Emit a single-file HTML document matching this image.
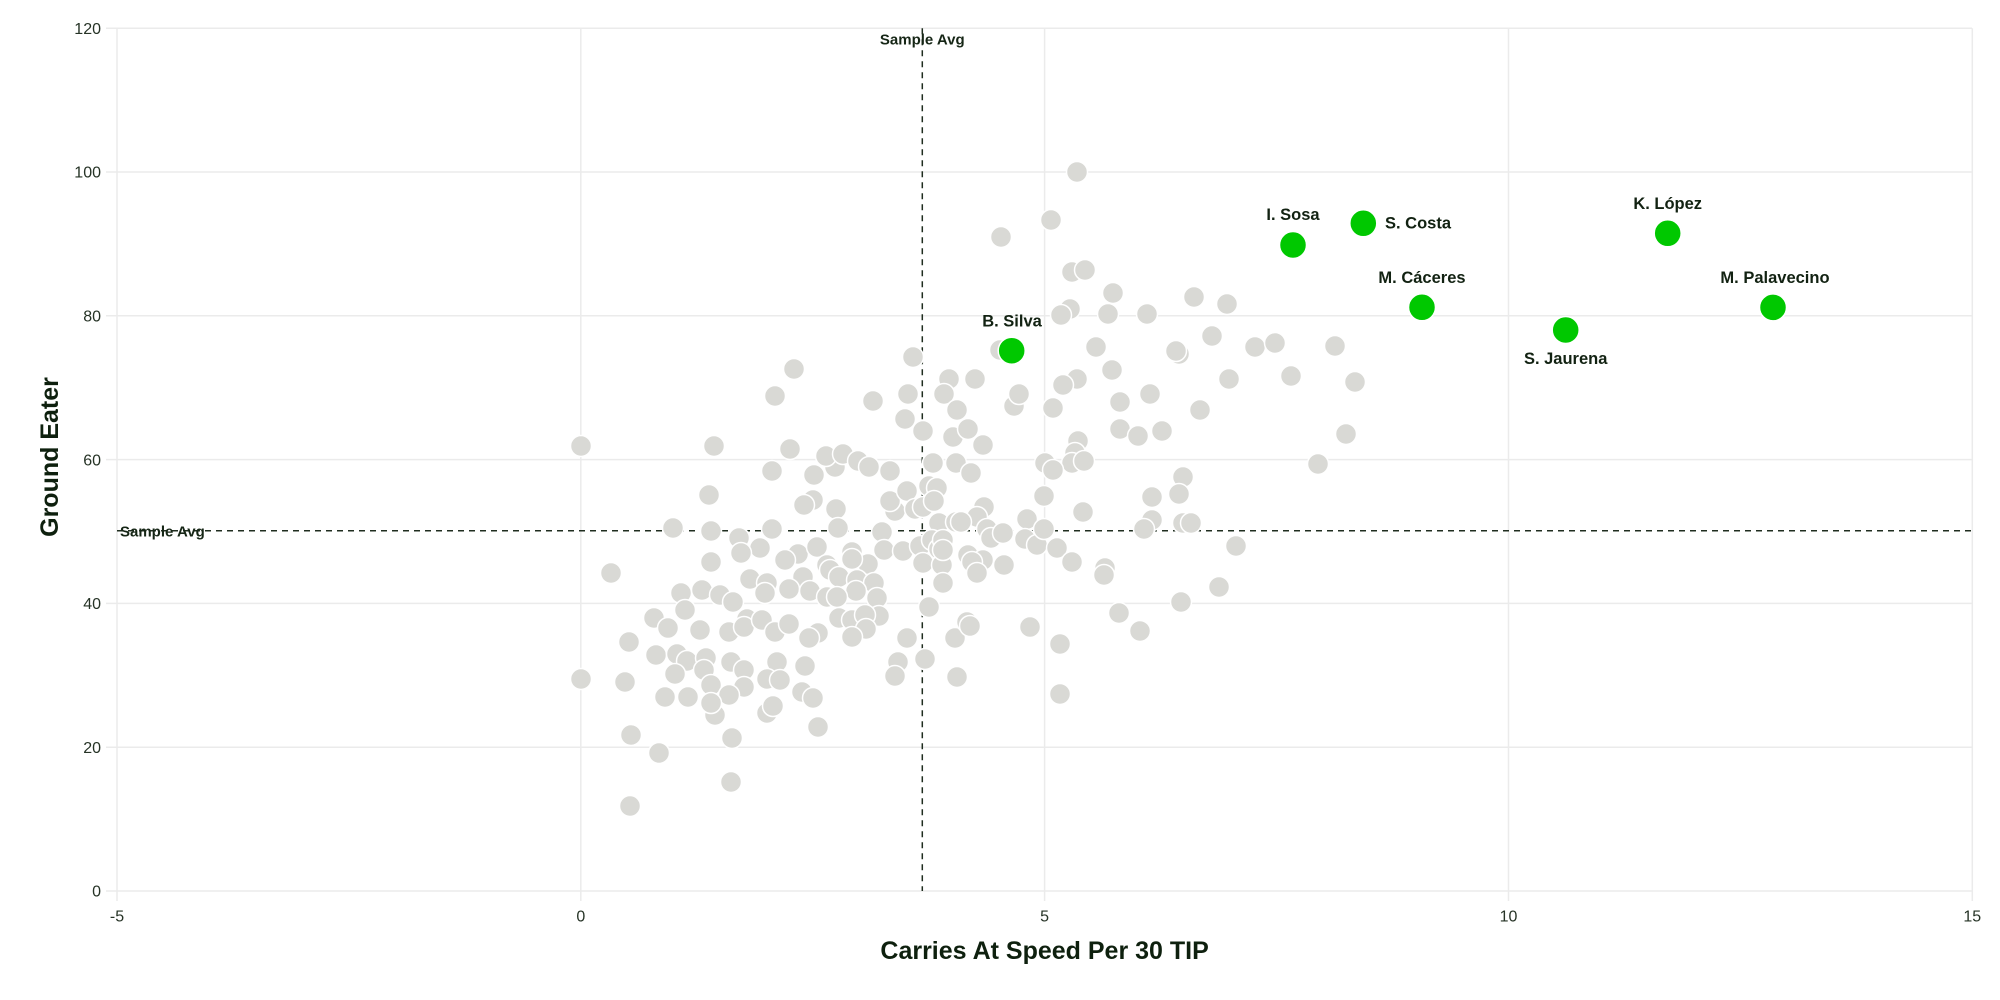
<!DOCTYPE html>
<html>
<head>
<meta charset="utf-8">
<style>
html,body{margin:0;padding:0;background:#fff;}
svg{display:block;}
text{font-family:"Liberation Sans",Arial,sans-serif;}
</style>
</head>
<body>
<svg width="2000" height="1000" viewBox="0 0 2000 1000" xmlns="http://www.w3.org/2000/svg">
<rect width="2000" height="1000" fill="#ffffff"/>
<g stroke="#ebebeb" stroke-width="1.5" fill="none">
<line x1="106" y1="891" x2="1972" y2="891"/><line x1="106" y1="747.2" x2="1972" y2="747.2"/><line x1="106" y1="603.4" x2="1972" y2="603.4"/><line x1="106" y1="459.6" x2="1972" y2="459.6"/>
<line x1="106" y1="315.8" x2="1972" y2="315.8"/><line x1="106" y1="172" x2="1972" y2="172"/><line x1="106" y1="28.2" x2="1972" y2="28.2"/>
<line x1="117" y1="28.2" x2="117" y2="901"/><line x1="580.8" y1="28.2" x2="580.8" y2="901"/><line x1="1044.6" y1="28.2" x2="1044.6" y2="901"/><line x1="1508.5" y1="28.2" x2="1508.5" y2="901"/><line x1="1972.3" y1="28.2" x2="1972.3" y2="901"/>
</g>
<g fill="#263326" font-size="16" text-anchor="end">
<text x="101" y="896.7">0</text><text x="101" y="752.9">20</text><text x="101" y="609.1">40</text><text x="101" y="465.3">60</text><text x="101" y="321.5">80</text><text x="101" y="177.7">100</text><text x="101" y="33.9">120</text>
</g>
<g fill="#263326" font-size="16" text-anchor="middle">
<text x="117" y="921.7">-5</text><text x="580.8" y="921.7">0</text><text x="1044.6" y="921.7">5</text><text x="1508.5" y="921.7">10</text><text x="1972.3" y="921.7">15</text>
</g>
<text x="1044.6" y="959" font-size="25" font-weight="bold" fill="#0e200e" text-anchor="middle">Carries At Speed Per 30 TIP</text>
<text transform="translate(58,457) rotate(-90)" font-size="25" font-weight="bold" fill="#0e200e" text-anchor="middle">Ground Eater</text>
<g stroke="#1f2d1f" stroke-width="1.5" stroke-dasharray="6,5" fill="none">
<line x1="922.3" y1="28.2" x2="922.3" y2="891"/><line x1="117" y1="530.7" x2="1972" y2="530.7"/>
</g>
<text x="922.3" y="44.5" font-size="15" font-weight="bold" fill="#162616" text-anchor="middle">Sample Avg</text>
<text x="120" y="536.5" font-size="15" font-weight="bold" fill="#162616">Sample Avg</text>
<g fill="#d9d9d5" stroke="#ffffff" stroke-width="1.5">
<circle cx="794" cy="369" r="10.5"/><circle cx="913" cy="357" r="10.5"/><circle cx="949" cy="379" r="10.5"/><circle cx="775" cy="396" r="10.5"/><circle cx="908" cy="394" r="10.5"/><circle cx="873" cy="401" r="10.5"/>
<circle cx="944" cy="394" r="10.5"/><circle cx="905" cy="419" r="10.5"/><circle cx="923" cy="431" r="10.5"/><circle cx="957" cy="410" r="10.5"/><circle cx="953" cy="437" r="10.5"/><circle cx="956" cy="463" r="10.5"/>
<circle cx="581" cy="446" r="10.5"/><circle cx="714" cy="446" r="10.5"/><circle cx="790" cy="449" r="10.5"/><circle cx="772" cy="471" r="10.5"/><circle cx="835" cy="467" r="10.5"/><circle cx="826" cy="456" r="10.5"/>
<circle cx="843" cy="454" r="10.5"/><circle cx="858" cy="461" r="10.5"/><circle cx="869" cy="467" r="10.5"/><circle cx="890" cy="471" r="10.5"/><circle cx="814" cy="475" r="10.5"/><circle cx="933" cy="463" r="10.5"/>
<circle cx="709" cy="495" r="10.5"/><circle cx="813" cy="500" r="10.5"/><circle cx="804" cy="505" r="10.5"/><circle cx="836" cy="509" r="10.5"/><circle cx="895" cy="511" r="10.5"/><circle cx="890" cy="501" r="10.5"/>
<circle cx="907" cy="491" r="10.5"/><circle cx="915" cy="509" r="10.5"/><circle cx="929" cy="486" r="10.5"/><circle cx="937" cy="488" r="10.5"/><circle cx="923" cy="507" r="10.5"/><circle cx="934" cy="501" r="10.5"/>
<circle cx="939" cy="523" r="10.5"/><circle cx="956" cy="522" r="10.5"/><circle cx="673" cy="528" r="10.5"/><circle cx="711" cy="531" r="10.5"/><circle cx="772" cy="529" r="10.5"/><circle cx="838" cy="528" r="10.5"/>
<circle cx="882" cy="532" r="10.5"/><circle cx="739" cy="538" r="10.5"/><circle cx="760" cy="548" r="10.5"/><circle cx="741" cy="553" r="10.5"/><circle cx="798" cy="554" r="10.5"/><circle cx="817" cy="547" r="10.5"/>
<circle cx="852" cy="552" r="10.5"/><circle cx="785" cy="560" r="10.5"/><circle cx="884" cy="550" r="10.5"/><circle cx="903" cy="551" r="10.5"/><circle cx="920" cy="546" r="10.5"/><circle cx="932" cy="540" r="10.5"/>
<circle cx="939" cy="549" r="10.5"/><circle cx="923" cy="563" r="10.5"/><circle cx="942" cy="565" r="10.5"/><circle cx="868" cy="564" r="10.5"/><circle cx="852" cy="559" r="10.5"/><circle cx="827" cy="565" r="10.5"/>
<circle cx="711" cy="562" r="10.5"/><circle cx="611" cy="573" r="10.5"/><circle cx="803" cy="577" r="10.5"/><circle cx="750" cy="579" r="10.5"/><circle cx="767" cy="583" r="10.5"/><circle cx="765" cy="593" r="10.5"/>
<circle cx="789" cy="589" r="10.5"/><circle cx="810" cy="591" r="10.5"/><circle cx="830" cy="570" r="10.5"/><circle cx="839" cy="577" r="10.5"/><circle cx="857" cy="580" r="10.5"/><circle cx="874" cy="583" r="10.5"/>
<circle cx="856" cy="591" r="10.5"/><circle cx="877" cy="598" r="10.5"/><circle cx="827" cy="597" r="10.5"/><circle cx="837" cy="597" r="10.5"/><circle cx="943" cy="583" r="10.5"/><circle cx="681" cy="593" r="10.5"/>
<circle cx="702" cy="590" r="10.5"/><circle cx="720" cy="595" r="10.5"/><circle cx="733" cy="602" r="10.5"/><circle cx="685" cy="610" r="10.5"/><circle cx="654" cy="618" r="10.5"/><circle cx="668" cy="628" r="10.5"/>
<circle cx="700" cy="630" r="10.5"/><circle cx="729" cy="632" r="10.5"/><circle cx="747" cy="619" r="10.5"/><circle cx="744" cy="627" r="10.5"/><circle cx="762" cy="620" r="10.5"/><circle cx="775" cy="632" r="10.5"/>
<circle cx="789" cy="624" r="10.5"/><circle cx="818" cy="633" r="10.5"/><circle cx="809" cy="638" r="10.5"/><circle cx="839" cy="618" r="10.5"/><circle cx="852" cy="620" r="10.5"/><circle cx="879" cy="616" r="10.5"/>
<circle cx="865" cy="615" r="10.5"/><circle cx="866" cy="629" r="10.5"/><circle cx="852" cy="637" r="10.5"/><circle cx="929" cy="607" r="10.5"/><circle cx="907" cy="638" r="10.5"/><circle cx="925" cy="659" r="10.5"/>
<circle cx="955" cy="638" r="10.5"/><circle cx="629" cy="642" r="10.5"/><circle cx="656" cy="655" r="10.5"/><circle cx="677" cy="654" r="10.5"/><circle cx="687" cy="661" r="10.5"/><circle cx="706" cy="658" r="10.5"/>
<circle cx="731" cy="662" r="10.5"/><circle cx="777" cy="662" r="10.5"/><circle cx="805" cy="666" r="10.5"/><circle cx="898" cy="662" r="10.5"/><circle cx="895" cy="676" r="10.5"/><circle cx="581" cy="679" r="10.5"/>
<circle cx="625" cy="682" r="10.5"/><circle cx="675" cy="674" r="10.5"/><circle cx="704" cy="670" r="10.5"/><circle cx="744" cy="670" r="10.5"/><circle cx="767" cy="679" r="10.5"/><circle cx="780" cy="680" r="10.5"/>
<circle cx="957" cy="677" r="10.5"/><circle cx="711" cy="685" r="10.5"/><circle cx="744" cy="687" r="10.5"/><circle cx="729" cy="695" r="10.5"/><circle cx="802" cy="692" r="10.5"/><circle cx="813" cy="698" r="10.5"/>
<circle cx="767" cy="713" r="10.5"/><circle cx="773" cy="706" r="10.5"/><circle cx="665" cy="697" r="10.5"/><circle cx="688" cy="697" r="10.5"/><circle cx="715" cy="715" r="10.5"/><circle cx="711" cy="703" r="10.5"/>
<circle cx="818" cy="727" r="10.5"/><circle cx="631" cy="735" r="10.5"/><circle cx="732" cy="738" r="10.5"/><circle cx="659" cy="753" r="10.5"/><circle cx="731" cy="782" r="10.5"/><circle cx="630" cy="806" r="10.5"/>
<circle cx="1077" cy="172" r="10.5"/><circle cx="1051" cy="220" r="10.5"/><circle cx="1001" cy="237" r="10.5"/><circle cx="1072" cy="272" r="10.5"/><circle cx="1085" cy="270" r="10.5"/><circle cx="1113" cy="293" r="10.5"/>
<circle cx="1194" cy="297" r="10.5"/><circle cx="1227" cy="304" r="10.5"/><circle cx="1070" cy="309" r="10.5"/><circle cx="1061" cy="315" r="10.5"/><circle cx="1108" cy="314" r="10.5"/><circle cx="1147" cy="314" r="10.5"/>
<circle cx="1000" cy="350" r="10.5"/><circle cx="1096" cy="347" r="10.5"/><circle cx="1179" cy="354" r="10.5"/><circle cx="1176" cy="351" r="10.5"/><circle cx="1212" cy="336" r="10.5"/><circle cx="1255" cy="347" r="10.5"/>
<circle cx="1275" cy="343" r="10.5"/><circle cx="1335" cy="346" r="10.5"/><circle cx="1112" cy="370" r="10.5"/><circle cx="1077" cy="379" r="10.5"/><circle cx="1063" cy="385" r="10.5"/><circle cx="1229" cy="379" r="10.5"/>
<circle cx="1291" cy="376" r="10.5"/><circle cx="1355" cy="382" r="10.5"/><circle cx="975" cy="379" r="10.5"/><circle cx="1014" cy="406" r="10.5"/><circle cx="1019" cy="394" r="10.5"/><circle cx="1053" cy="408" r="10.5"/>
<circle cx="1120" cy="402" r="10.5"/><circle cx="1150" cy="394" r="10.5"/><circle cx="1200" cy="410" r="10.5"/><circle cx="968" cy="429" r="10.5"/><circle cx="983" cy="445" r="10.5"/><circle cx="1078" cy="441" r="10.5"/>
<circle cx="1120" cy="429" r="10.5"/><circle cx="1138" cy="436" r="10.5"/><circle cx="1162" cy="431" r="10.5"/><circle cx="1346" cy="434" r="10.5"/><circle cx="1075" cy="453" r="10.5"/><circle cx="1072" cy="463" r="10.5"/>
<circle cx="1084" cy="461" r="10.5"/><circle cx="1045" cy="463" r="10.5"/><circle cx="1053" cy="470" r="10.5"/><circle cx="971" cy="473" r="10.5"/><circle cx="1318" cy="464" r="10.5"/><circle cx="1183" cy="477" r="10.5"/>
<circle cx="1179" cy="494" r="10.5"/><circle cx="1152" cy="497" r="10.5"/><circle cx="1044" cy="496" r="10.5"/><circle cx="1083" cy="512" r="10.5"/><circle cx="984" cy="507" r="10.5"/><circle cx="977" cy="517" r="10.5"/>
<circle cx="961" cy="522" r="10.5"/><circle cx="1027" cy="519" r="10.5"/><circle cx="987" cy="529" r="10.5"/><circle cx="991" cy="538" r="10.5"/><circle cx="1003" cy="533" r="10.5"/><circle cx="1025" cy="539" r="10.5"/>
<circle cx="1037" cy="545" r="10.5"/><circle cx="1044" cy="529" r="10.5"/><circle cx="1057" cy="548" r="10.5"/><circle cx="1072" cy="562" r="10.5"/><circle cx="1152" cy="520" r="10.5"/><circle cx="1144" cy="529" r="10.5"/>
<circle cx="1183" cy="523" r="10.5"/><circle cx="1191" cy="523" r="10.5"/><circle cx="1236" cy="546" r="10.5"/><circle cx="943" cy="540" r="10.5"/><circle cx="943" cy="550" r="10.5"/><circle cx="968" cy="555" r="10.5"/>
<circle cx="983" cy="560" r="10.5"/><circle cx="972" cy="562" r="10.5"/><circle cx="977" cy="573" r="10.5"/><circle cx="1004" cy="565" r="10.5"/><circle cx="1105" cy="568" r="10.5"/><circle cx="1104" cy="575" r="10.5"/>
<circle cx="1219" cy="587" r="10.5"/><circle cx="1181" cy="602" r="10.5"/><circle cx="1119" cy="613" r="10.5"/><circle cx="1140" cy="631" r="10.5"/><circle cx="967" cy="622" r="10.5"/><circle cx="970" cy="626" r="10.5"/>
<circle cx="1030" cy="627" r="10.5"/><circle cx="1060" cy="644" r="10.5"/><circle cx="1060" cy="694" r="10.5"/>
</g>
<g fill="#00c800" stroke="#ffffff" stroke-width="1.5">
<circle cx="1011.7" cy="350.7" r="13.5"/><circle cx="1293" cy="245" r="13.5"/><circle cx="1363.3" cy="223.3" r="13.5"/><circle cx="1422" cy="307.3" r="13.5"/>
<circle cx="1565.7" cy="330" r="13.5"/><circle cx="1667.7" cy="233.3" r="13.5"/><circle cx="1773" cy="307.4" r="13.5"/>
</g>
<g font-size="16.5" font-weight="bold" fill="#122212" text-anchor="middle">
<text x="1012" y="326.6">B. Silva</text>
<text x="1293" y="219.9">I. Sosa</text>
<text x="1385" y="228.6" text-anchor="start">S. Costa</text>
<text x="1422" y="283.2">M. Cáceres</text>
<text x="1565.7" y="364.2">S. Jaurena</text>
<text x="1667.7" y="209.2">K. López</text>
<text x="1775" y="282.9">M. Palavecino</text>
</g>
</svg>
</body>
</html>
